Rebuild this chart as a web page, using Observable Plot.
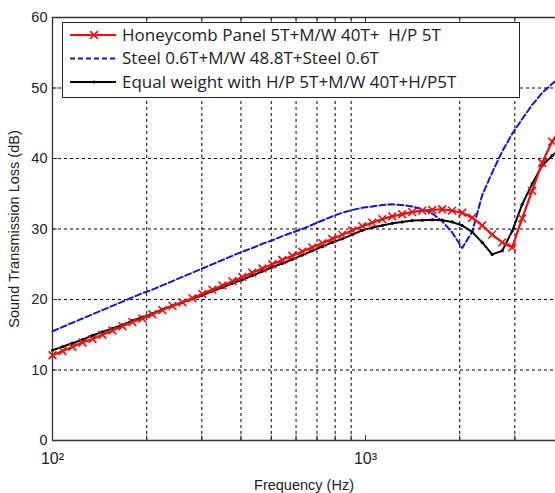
<!DOCTYPE html>
<html><head><meta charset="utf-8">
<script src="https://cdn.jsdelivr.net/npm/d3@7"></script>
<script src="https://cdn.jsdelivr.net/npm/@observablehq/plot@0.6"></script>
<style>html,body{margin:0;padding:0;background:#fff} svg{display:block}</style>
</head><body><div id="chart"></div>
<script>
const freqs = [100,107.6,115.8,124.7,134.2,144.4,155.4,167.3,180.0,193.8,
  208.5,224.4,241.6,260.0,279.8,301.2,324.2,348.9,375.5,404.1,
  434.9,468.1,503.8,542.3,583.6,628.2,676.1,727.6,783.2,842.9,
  907.2,976.4,1051,1131,1217,1310,1410,1518,1634,1758,
  1892,2037,2192,2359,2539,2733,2942,3166,3407,3667,
  3947,4248];
const honeycomb = [12.1,12.7,13.3,13.9,14.4,15.0,15.6,16.2,16.8,17.3,
  17.9,18.5,19.1,19.6,20.2,20.8,21.4,22.0,22.6,23.2,
  23.8,24.4,25.0,25.6,26.2,26.8,27.4,28.0,28.6,29.2,
  29.8,30.4,30.9,31.4,31.8,32.1,32.4,32.6,32.7,32.8,
  32.6,32.3,31.6,30.5,29.2,28.1,27.4,31.5,35.4,39.4,
  42.4,44.5];
const steel = [15.5,16.1,16.7,17.3,17.9,18.5,19.1,19.7,20.3,20.9,
  21.4,22.0,22.6,23.2,23.8,24.4,25.0,25.6,26.2,26.8,
  27.3,27.9,28.4,29.0,29.5,30.0,30.6,31.2,31.8,32.3,
  32.7,33.0,33.2,33.4,33.5,33.4,33.2,32.8,32.2,31.1,
  29.5,27.3,29.6,34.8,38.0,41.0,43.5,45.6,47.6,49.3,
  50.6,51.7];
const equalWeight = [12.8,13.3,13.8,14.3,14.9,15.4,15.9,16.4,17.0,17.5,
  18.0,18.6,19.1,19.6,20.1,20.6,21.2,21.7,22.3,22.8,
  23.4,24.0,24.6,25.1,25.7,26.3,26.9,27.5,28.1,28.6,
  29.2,29.8,30.2,30.5,30.8,31.0,31.2,31.25,31.3,31.25,
  31.0,30.5,29.6,28.1,26.4,26.9,29.7,33.5,36.4,39.0,
  40.4,41.6];

const seriesNames = ["Honeycomb Panel 5T+M/W 40T+  H/P 5T",
  "Steel 0.6T+M/W 48.8T+Steel 0.6T",
  "Equal weight with H/P 5T+M/W 40T+H/P5T"];
const RED = "#f20c0c", BLUE = "#1414d8", BLACK = "#000000";

const xGridTicks = [200,300,400,500,600,700,800,900,2000,3000];
const xLabelTicks = [100, 1000];
const xTickLabels = ["10²", "10³"];
const yTicks = [0,10,20,30,40,50,60];
const yGrid = [10,20,30,40,50];

const rows = freqs.map((f, i) => ({f, honeycomb: honeycomb[i], steel: steel[i], equal: equalWeight[i]}));

const chart = Plot.plot({
  width: 555, height: 493,
  marginLeft: 52, marginRight: 0, marginTop: 17, marginBottom: 53,
  style: {fontFamily: "'Liberation Sans', Arial, sans-serif", fontSize: "13px", color: "#222", background: "white"},
  x: {type: "log", domain: [100, 4046]},
  y: {domain: [0, 60]},
  marks: [
    Plot.ruleX(xGridTicks, {stroke: "#000", strokeDasharray: "3,3", strokeWidth: 1}),
    Plot.ruleY(yGrid, {stroke: "#000", strokeDasharray: "3,3", strokeWidth: 1}),
    Plot.ruleX(xGridTicks.concat(xLabelTicks), {y1: 60, y2: 59.3, stroke: "#333"}),
    Plot.ruleX(xGridTicks.concat(xLabelTicks), {y1: 0, y2: 0.7, stroke: "#333"}),
    Plot.ruleY(yTicks, {x1: 100, x2: 103.8, stroke: "#333"}),
    Plot.axisX({ticks: xLabelTicks, tickFormat: d => xTickLabels[xLabelTicks.indexOf(d)], tickSize: 0, tickPadding: 12, fontSize: 16, label: null}),
    Plot.axisX({ticks: [], tickSize: 0, label: "Frequency (Hz)", labelAnchor: "center", labelArrow: "none", labelOffset: 49, fontSize: 14.5}),
    Plot.axisY({ticks: yTicks, tickSize: 0, tickPadding: 5, fontSize: 14.5, label: null}),
    Plot.axisY({ticks: [], tickSize: 0, label: "Sound Transmission Loss (dB)", labelAnchor: "center", labelArrow: "none", labelOffset: 44, fontSize: 14.5}),
    Plot.ruleY([0], {stroke: "#333", strokeWidth: 1.3}),
    Plot.ruleY([60], {stroke: "#333", strokeWidth: 1.3}),
    Plot.ruleX([100], {stroke: "#333", strokeWidth: 1.3}),
    Plot.line(rows, {x: "f", y: "steel", stroke: BLUE, strokeWidth: 2, strokeDasharray: "6,3"}),
    Plot.line(rows, {x: "f", y: "equal", stroke: BLACK, strokeWidth: 2}),
    Plot.dot(rows, {x: "f", y: "equal", r: 1.6, fill: BLACK}),
    Plot.line(rows, {x: "f", y: "honeycomb", stroke: RED, strokeWidth: 2.2}),
    Plot.dot(rows, {x: "f", y: "honeycomb", symbol: "times", r: 3.6, stroke: RED, strokeWidth: 1.6})
  ]
});
document.getElementById("chart").appendChild(chart);

// Legend box inside plot (top-left)
const svg = d3.select(chart);
const lg = svg.append("g").attr("font-family", "'Open Sans', 'Noto Sans', sans-serif")
  .attr("font-size", 17).attr("text-anchor", "start");
lg.append("rect").attr("x", 62.5).attr("y", 22.5).attr("width", 457).attr("height", 75)
  .attr("fill", "white").attr("stroke", "#222").attr("stroke-width", 1);
const legendStyles = [
  {color: RED, dash: null, marker: "x"},
  {color: BLUE, dash: "5,3", marker: null},
  {color: BLACK, dash: null, marker: "dot"}
];
const rowY = [35, 58.5, 82];
seriesNames.forEach((name, i) => {
  const s = legendStyles[i], y = rowY[i];
  lg.append("line").attr("x1", 70).attr("x2", 116).attr("y1", y).attr("y2", y)
    .attr("stroke", s.color).attr("stroke-width", 2).attr("stroke-dasharray", s.dash);
  if (s.marker === "x") {
    lg.append("path").attr("d", d3.symbol(d3.symbolTimes, 40)()).attr("transform", `translate(94,${y})`)
      .attr("stroke", s.color).attr("stroke-width", 1.6).attr("fill", "none");
  } else if (s.marker === "dot") {
    lg.append("circle").attr("cx", 94).attr("cy", y).attr("r", 1.6).attr("fill", s.color);
  }
  lg.append("text").attr("x", 122).attr("y", y).attr("dy", "0.35em").attr("text-anchor", "start")
    .attr("fill", "#222").text(name);
});
</script>
</body></html>
